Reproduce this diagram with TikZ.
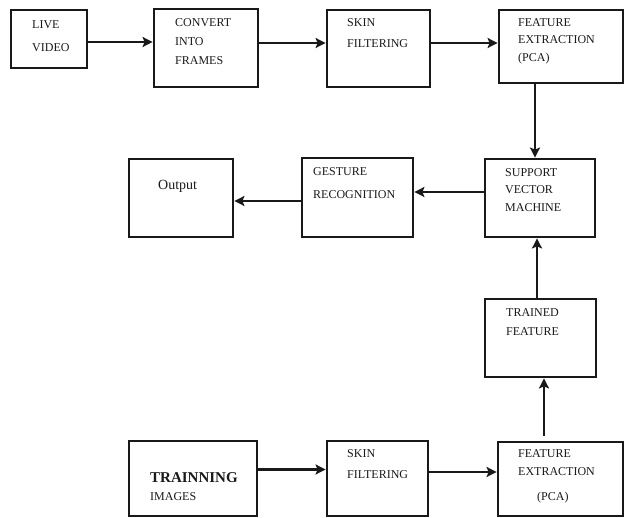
\documentclass[tikz,border=0pt]{standalone}
\usepackage{fontspec}
\setmainfont{Liberation Serif}
\usetikzlibrary{arrows.meta,calc}
\tikzset{
  box/.style={draw=black!90, line width=2.8pt, inner sep=0pt, rectangle},
  arr/.style={draw=black!90, line width=2.6pt, -{Stealth[length=10pt,width=10pt,inset=2pt]}},
  txt/.style={anchor=north west, inner sep=0pt, align=left, text=black!90},
}
\newcommand{\boxat}[5]{\node[box, minimum width=#4-#2, minimum height=#5-#3] (#1) at ({(#2+#4)/2},{(#3+#5)/2}) {};}
\begin{document}
\begin{tikzpicture}[x=1pt,y=-1pt]
\useasboundingbox (0,0) rectangle (625,518);
% boxes
\boxat{live}{11}{10}{87}{68}
\boxat{conv}{154}{9}{258}{87}
\boxat{skinA}{327}{10}{430}{87}
\boxat{featA}{499}{10}{623}{83}
\boxat{svm}{485}{159}{595}{237}
\boxat{gest}{302}{158}{413}{237}
\boxat{out}{129}{159}{233}{237}
\boxat{trained}{485}{299}{596}{377}
\boxat{featB}{498}{442}{623}{516}
\boxat{skinB}{327}{441}{428}{516}
\boxat{train}{129}{441}{257}{516}
% texts
\node[txt, font=\fontsize{12}{23}\selectfont] (tlive) at (32,20) {LIVE\\VIDEO};
\node[txt, font=\fontsize{12}{19}\selectfont] (tconv) at (175,18) {CONVERT\\INTO\\FRAMES};
\node[txt, font=\fontsize{12}{21}\selectfont] (tskinA) at (347,18) {SKIN\\FILTERING};
\node[txt, font=\fontsize{12}{17.5}\selectfont] (tfeatA) at (518,18) {FEATURE\\EXTRACTION\\(PCA)};
\node[txt, font=\fontsize{12}{17.5}\selectfont] (tsvm) at (505,168) {SUPPORT\\VECTOR\\MACHINE};
\node[txt, font=\fontsize{12}{23}\selectfont] (tgest) at (313,167) {GESTURE\\RECOGNITION};
\node[txt, font=\fontsize{14}{17}\selectfont] (tout) at (158,180) {Output};
\node[txt, font=\fontsize{12}{19}\selectfont] (ttrained) at (506,308) {TRAINED\\FEATURE};
\node[txt, font=\fontsize{12}{21}\selectfont] (tskinB) at (347,449) {SKIN\\FILTERING};
\node[txt, font=\fontsize{12}{18}\selectfont] (tfeatB) at (518,449) {FEATURE\\EXTRACTION\\[7pt]\hspace*{19pt}(PCA)};
\node[txt, font=\fontsize{15}{18}\selectfont\bfseries] (ttrain) at (150,472) {TRAINNING};
\node[txt, font=\fontsize{12}{14}\selectfont] (timg) at (150,492) {IMAGES};
% connectors
\draw[arr] ([yshift=-3pt]live.east) -- ([yshift=-3pt]live.east -| conv.west);
\draw[arr] ([yshift=5pt]conv.east) -- ([yshift=5pt]conv.east -| skinA.west);
\draw[arr] ([yshift=5.5pt]skinA.east) -- ([yshift=5.5pt]skinA.east -| featA.west);
\draw[arr] ([xshift=-26pt]featA.south) -- ([xshift=-26pt]featA.south |- svm.north);
\draw[arr] ([yshift=6pt]svm.west) -- ([yshift=6pt]svm.west -| gest.east);
\draw[arr] ([yshift=-3.5pt]gest.west) -- ([yshift=-3.5pt]gest.west -| out.east);
\draw[arr] ([xshift=-3.5pt]trained.north) -- ([xshift=-3.5pt]trained.north |- svm.south);
\draw[arr] ([xshift=-16.5pt,yshift=5pt]featB.north) -- ([xshift=-16.5pt]featB.north |- trained.south);
\draw[arr] ([yshift=9pt]train.east) -- ([yshift=9pt]train.east -| skinB.west);
\draw[arr] ([yshift=6.5pt]skinB.east) -- ([yshift=6.5pt]skinB.east -| featB.west);
\end{tikzpicture}
\end{document}
